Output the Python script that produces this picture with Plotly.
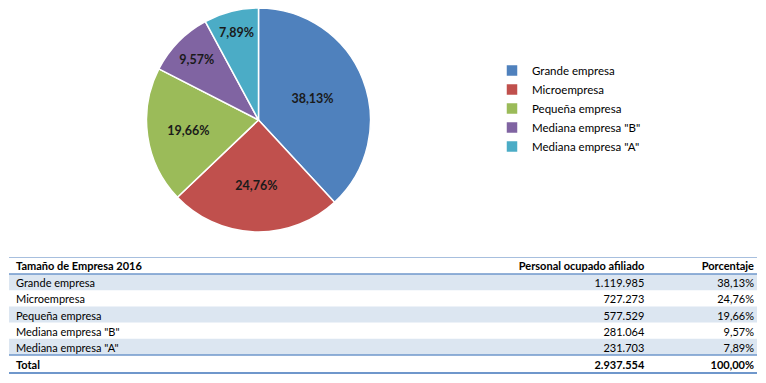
import plotly.graph_objects as go

# ---- data ----
categorias = ["Grande empresa", "Microempresa", "Pequeña empresa",
              'Mediana empresa "B"', 'Mediana empresa "A"']
personal = [1119985, 727273, 577529, 281064, 231703]
colores = ["#4F81BD", "#C0504D", "#9BBB59", "#8064A2", "#4BACC6"]
encabezados = ["Tamaño de Empresa 2016", "Personal ocupado afiliado", "Porcentaje"]
etiqueta_total = "Total"

# the page puts the figure 8px from the window's top-left corner
OFF = 8
W, H = 766 - OFF, 383 - OFF
FONT = "Lato"


def px(x):
    return min(1.0, max(0.0, (x - OFF) / W))


def py(y):
    return min(1.0, max(0.0, 1 - (y - OFF) / H))


def fmt_int(n):
    return f"{n:,}".replace(",", ".")


def fmt_pct(v):
    return f"{v * 100:.2f}".replace(".", ",") + "%"


total = sum(personal)

fig = go.Figure()

PIE_CX, PIE_CY, PIE_R = 258.5, 120, 112
fig.add_trace(go.Pie(
    labels=categorias,
    values=personal,
    marker=dict(colors=colores, line=dict(color="white", width=1.5)),
    sort=False,
    direction="clockwise",
    rotation=0,
    texttemplate="%{percent:.2%}",
    textposition="inside",
    insidetextorientation="horizontal",
    textfont=dict(family=FONT, size=12.5, color="#1a1a1a", weight="bold"),
    domain=dict(x=[px(PIE_CX - PIE_R), px(PIE_CX + PIE_R)],
                y=[py(PIE_CY + PIE_R), py(PIE_CY - PIE_R)]),
    hoverinfo="label+value+percent",
))

# ---- table ----
band = "#DCE6F1"
clear = "rgba(0,0,0,0)"
col1 = categorias
col2 = [fmt_int(v) for v in personal]
col3 = [fmt_pct(v / total) for v in personal]
fila_total = [etiqueta_total, fmt_int(total), fmt_pct(1)]

T_TOP = 258
HDR_H = 16
ROW_H = 16.2
TOT_H = 18
TEXT_LIFT = 3          # plotly places cell text a little low; lift the text layer
TX0, TX1 = px(8), px(762)
COLW = [395, 251, 110]
ALIGN = ["left", "right", "right"]

body_top = T_TOP + HDR_H
body_bottom = body_top + len(categorias) * ROW_H

fig.add_trace(go.Table(
    domain=dict(x=[TX0, TX1],
                y=[py(body_bottom + 4), py(T_TOP - TEXT_LIFT - 1)]),
    columnwidth=COLW,
    header=dict(
        values=encabezados,
        align=ALIGN,
        height=HDR_H + 1,
        fill_color=clear,
        line=dict(color=clear, width=0),
        font=dict(family=FONT, size=11, color="#000000", weight="bold"),
    ),
    cells=dict(
        values=[col1, col2, col3],
        align=ALIGN,
        height=ROW_H,
        fill_color=clear,
        line=dict(color=clear, width=0),
        font=dict(family=FONT, size=11, color="#000000"),
    ),
))

# total row
fig.add_trace(go.Table(
    domain=dict(x=[TX0, TX1],
                y=[py(body_bottom + TOT_H + 2), py(body_bottom - 2)]),
    columnwidth=COLW,
    header=dict(
        values=fila_total,
        align=ALIGN,
        height=TOT_H,
        fill_color=clear,
        line=dict(color=clear, width=0),
        font=dict(family=FONT, size=11, color="#000000", weight="bold"),
    ),
    cells=dict(values=[[], [], []]),
))

# banded row backgrounds (every other body row)
shapes = []
for i in range(0, len(categorias), 2):
    shapes.append(dict(type="rect", xref="paper", yref="paper", layer="below",
                       x0=px(9), x1=px(757),
                       y0=py(body_top + (i + 1) * ROW_H), y1=py(body_top + i * ROW_H),
                       fillcolor=band, line=dict(width=0)))

# table rules
rules = [
    (T_TOP - 0.5, "#A7BFDE", 1),
    (body_top, "#6F97CB", 1.5),
    (body_bottom, "#6F97CB", 1.5),
    (body_bottom + TOT_H, "#6F97CB", 2),
]
shapes += [dict(type="line", xref="paper", yref="paper", x0=px(9), x1=px(757),
                y0=py(y), y1=py(y), line=dict(color=c, width=w))
           for y, c, w in rules]

fig.update_layout(
    width=W, height=H,
    margin=dict(l=0, r=0, t=0, b=0),
    paper_bgcolor="white",
    plot_bgcolor="white",
    separators=",.",
    font=dict(family=FONT, size=11, color="#000000"),
    legend=dict(
        x=px(492), y=py(56), xanchor="left", yanchor="top",
        font=dict(family=FONT, size=11.5, color="#000000"),
        bgcolor="rgba(0,0,0,0)",
        traceorder="normal",
    ),
    shapes=shapes,
)

fig.write_html("out.html")
